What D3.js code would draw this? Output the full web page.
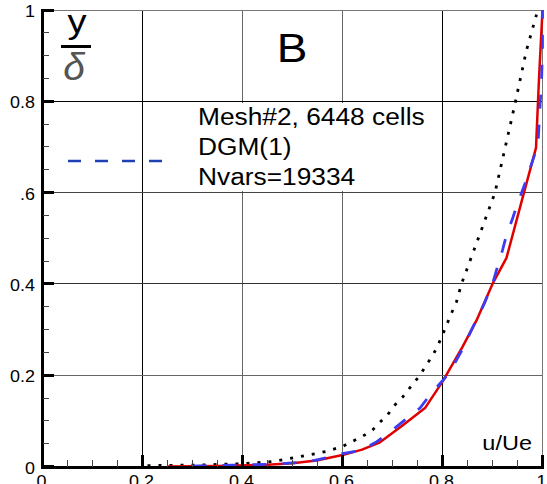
<!DOCTYPE html>
<html>
<head>
<meta charset="utf-8">
<script src="https://cdn.jsdelivr.net/npm/d3@7"></script>
<style>
  html, body { margin: 0; padding: 0; background: #fff; }
  svg { display: block; }
  text { font-family: "Liberation Sans", Arial, sans-serif; }
</style>
</head>
<body>
<svg id="chart" width="547" height="484"></svg>
<script>
// Axis ticks and labels
const uMajor = [0, 0.2, 0.4, 0.6, 0.8, 1];
const uMajorLabels = ["0", "0.2", "0.4", "0.6", "0.8", "1"];
const yMajor = [0, 0.2, 0.4, 0.6, 0.8, 1];
const yMajorLabels = ["0", "0.2", "0.4", ".6", "0.8", "1"];
const minorTicks = [0.05, 0.1, 0.15, 0.25, 0.3, 0.35, 0.45, 0.5, 0.55, 0.65, 0.7, 0.75, 0.85, 0.9, 0.95];
const gridValues = [0.2, 0.4, 0.6, 0.8];
const gridVColors = ["#000", "#666", "#666", "#000"];
const gridHColors = ["#666", "#333", "#444", "#000"];

// Reference profile (dotted)
const refU = [0.21, 0.3, 0.4, 0.46, 0.508, 0.568, 0.6, 0.62, 0.64, 0.66, 0.675, 0.69, 0.705, 0.721, 0.738, 0.755, 0.768, 0.781, 0.791, 0.8, 0.818, 0.828, 0.838, 0.87, 0.905, 0.938, 0.948, 0.968, 0.988];
const refY = [0.002, 0.003, 0.006, 0.011, 0.02, 0.033, 0.044, 0.055, 0.066, 0.08, 0.097, 0.113, 0.135, 0.153, 0.177, 0.2, 0.223, 0.244, 0.266, 0.288, 0.336, 0.361, 0.4, 0.495, 0.6, 0.76, 0.81, 0.912, 0.99];

// Solid red profile
const redU = [0.25, 0.35, 0.45, 0.5, 0.548, 0.6, 0.639, 0.675, 0.72, 0.765, 0.8, 0.84, 0.868, 0.9, 0.928, 0.96, 0.987, 0.993, 1.0];
const redY = [0.0, 0.001, 0.004, 0.007, 0.013, 0.025, 0.037, 0.053, 0.09, 0.128, 0.186, 0.262, 0.32, 0.4, 0.457, 0.588, 0.698, 0.85, 1.0];

// DGM(1) profile (blue dashed)
const dgmU = [0.3, 0.38, 0.46, 0.5, 0.53, 0.575, 0.6, 0.639, 0.668, 0.7, 0.725, 0.755, 0.775, 0.805, 0.819, 0.839, 0.855, 0.884, 0.9, 0.908, 0.92, 0.928, 0.941, 0.951, 0.965, 0.975, 0.991, 0.995, 0.998, 1.0, 1.0];
const dgmY = [0.001, 0.003, 0.005, 0.008, 0.010, 0.021, 0.028, 0.036, 0.054, 0.08, 0.102, 0.128, 0.157, 0.194, 0.216, 0.255, 0.292, 0.358, 0.4, 0.43, 0.474, 0.507, 0.546, 0.579, 0.62, 0.653, 0.705, 0.79, 0.84, 0.92, 1.0];

const legendLines = ["Mesh#2, 6448 cells", "DGM(1)", "Nvars=19334"];

const svg = d3.select("#chart");
const x = d3.scaleLinear().domain([0, 1]).range([42.5, 542.5]);
const y = d3.scaleLinear().domain([0, 1]).range([466.5, 10]);
const SX = 1.12; // horizontal stretch of the lettering

function stretchedText(g, tx, ty, str, size, anchor) {
  return g.append("text")
    .attr("transform", `translate(${tx},${ty}) scale(${SX},1)`)
    .attr("text-anchor", anchor || "start")
    .attr("font-size", size)
    .attr("fill", "#000")
    .text(str);
}

// Grid
const grid = svg.append("g").attr("shape-rendering", "crispEdges");
grid.selectAll("line.v").data(gridValues).enter().append("line")
  .attr("x1", d => x(d)).attr("x2", d => x(d))
  .attr("y1", y(0)).attr("y2", y(1))
  .attr("stroke", (d, i) => gridVColors[i]).attr("stroke-width", 1);
grid.selectAll("line.h").data(gridValues).enter().append("line")
  .attr("x1", x(0)).attr("x2", x(1))
  .attr("y1", d => y(d)).attr("y2", d => y(d))
  .attr("stroke", (d, i) => gridHColors[i]).attr("stroke-width", 1);
// frame top and right
grid.append("line").attr("x1", x(0)).attr("x2", x(1)).attr("y1", y(1)).attr("y2", y(1))
  .attr("stroke", "#777").attr("stroke-width", 1);
grid.append("line").attr("x1", x(1)).attr("x2", x(1)).attr("y1", y(0)).attr("y2", y(1))
  .attr("stroke", "#777").attr("stroke-width", 1);

// Legend box (white backing)
svg.append("rect").attr("x", 190).attr("y", 103).attr("width", 246).attr("height", 88)
  .attr("fill", "#fff");

// Curves
const line = d3.line().x(d => x(d[0])).y(d => y(d[1]));
const refPts = refU.map((u, i) => [u, refY[i]]);
const redPts = redU.map((u, i) => [u, redY[i]]);
const dgmPts = dgmU.map((u, i) => [u, dgmY[i]]);

svg.append("path").datum(refPts).attr("d", line)
  .attr("fill", "none").attr("stroke", "#000").attr("stroke-width", 2.8)
  .attr("stroke-dasharray", "3,8");
svg.append("path").datum(redPts).attr("d", line)
  .attr("fill", "none").attr("stroke", "#e00000").attr("stroke-width", 2.5)
  .attr("stroke-linejoin", "round");
svg.append("path").datum(dgmPts).attr("d", line)
  .attr("fill", "none").attr("stroke", "#3c3cf2").attr("stroke-width", 2.8)
  .attr("stroke-dasharray", "14,16");

// Axes: thick left and bottom lines with inward ticks
const axes = svg.append("g").attr("shape-rendering", "crispEdges");
axes.append("line").attr("x1", x(0) - 0.5).attr("x2", x(0) - 0.5).attr("y1", y(0) + 1.5).attr("y2", y(1) - 1)
  .attr("stroke", "#000").attr("stroke-width", 3);
axes.append("line").attr("x1", x(0) - 2).attr("x2", x(1) + 1).attr("y1", y(0) + 0.5).attr("y2", y(0) + 0.5)
  .attr("stroke", "#000").attr("stroke-width", 3);

axes.selectAll("line.ymaj").data(yMajor).enter().append("line")
  .attr("x1", x(0)).attr("x2", x(0) + 11)
  .attr("y1", d => y(d)).attr("y2", d => y(d))
  .attr("stroke", "#000").attr("stroke-width", 3);
axes.selectAll("line.ymin").data(minorTicks).enter().append("line")
  .attr("x1", x(0)).attr("x2", x(0) + 6)
  .attr("y1", d => y(d)).attr("y2", d => y(d))
  .attr("stroke", "#444").attr("stroke-width", 1);
axes.selectAll("line.xmaj").data(uMajor).enter().append("line")
  .attr("x1", d => x(d)).attr("x2", d => x(d))
  .attr("y1", y(0)).attr("y2", y(0) - 12)
  .attr("stroke", "#000").attr("stroke-width", 3);
axes.selectAll("line.xmin").data(minorTicks).enter().append("line")
  .attr("x1", d => x(d)).attr("x2", d => x(d))
  .attr("y1", y(0)).attr("y2", y(0) - 7)
  .attr("stroke", "#444").attr("stroke-width", 1);

// Tick labels (the u labels sit at the lower edge of the canvas)
const labels = svg.append("g");
yMajor.forEach((v, i) => stretchedText(labels, 35, y(v) + 7, yMajorLabels[i], 16, "end"));
uMajor.forEach((v, i) => stretchedText(labels, x(v) - 1, 487, uMajorLabels[i], 16, "middle"));

// Axis titles
stretchedText(svg, 77, 33, "y", 34, "middle");
svg.append("rect").attr("x", 61).attr("y", 45).attr("width", 30).attr("height", 3).attr("fill", "#000");
svg.append("text").attr("x", 74).attr("y", 80).attr("text-anchor", "middle")
  .attr("font-family", "'Liberation Serif', 'DejaVu Serif', serif").attr("font-style", "italic")
  .attr("font-size", 39).attr("fill", "#555").text("δ");
stretchedText(svg, 532, 450, "u/Ue", 21, "end");
stretchedText(svg, 292, 62, "B", 41, "middle");

// Legend
svg.append("line").attr("x1", 68).attr("x2", 162).attr("y1", 161).attr("y2", 161)
  .attr("stroke", "#1f40b4").attr("stroke-width", 2.5).attr("stroke-dasharray", "13,14");
legendLines.forEach((t, i) => stretchedText(svg, 198, 125 + i * 30, t, 23.5, "start"));
</script>
</body>
</html>
